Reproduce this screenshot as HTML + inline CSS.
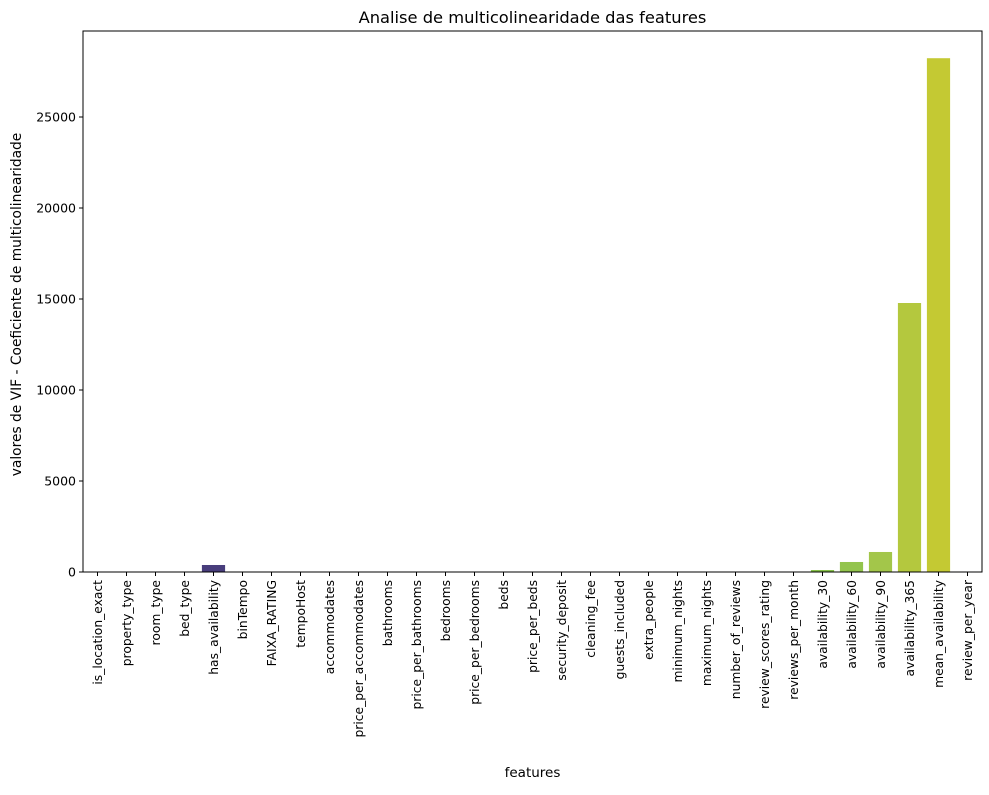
<!DOCTYPE html>
<html><head><meta charset="utf-8"><style>
body{margin:0;background:#fff;font-family:"Liberation Sans","DejaVu Sans",sans-serif}
svg text{font-family:"DejaVu Sans","Liberation Sans",sans-serif;fill:#000}
</style></head><body>
<svg id="c" width="989" height="790"></svg>
<script>
const categories=["is_location_exact","property_type","room_type","bed_type","has_availability","binTempo","FAIXA_RATING","tempoHost","accommodates","price_per_accommodates","bathrooms","price_per_bathrooms","bedrooms","price_per_bedrooms","beds","price_per_beds","security_deposit","cleaning_fee","guests_included","extra_people","minimum_nights","maximum_nights","number_of_reviews","review_scores_rating","reviews_per_month","availability_30","availability_60","availability_90","availability_365","mean_availability","review_per_year"];
const vifValues=[3,8,5,2,385,4,6,5,9,7,4,6,8,6,7,5,3,4,5,3,2,2,4,6,5,110,550,1100,14780,28230,4];
const barColors=["#3b1f5e","#40245f","#422a70","#463374","#483d7c","#3f4a88","#39568c","#33628d","#2d6e8e","#29798e","#25838e","#218e8d","#1f998a","#22a385","#2bad7f","#3bb777","#4fc06a","#63c65e","#76c95a","#80c052","#82c04f","#84c04c","#86c04a","#86c04a","#86c04a","#86c04a","#93c44d","#a3c64a","#b4c83e","#c4c933","#d2cc2a"];
const yTicks=[0,5000,10000,15000,20000,25000];
const svg=document.getElementById('c');const NS='http://www.w3.org/2000/svg';
const L=83,R=982,T=31,B=572,yMax=29725;
const y=v=>B-v/yMax*(B-T);
const step=(R-L)/categories.length;
const x=i=>L+step*(i+0.5);
function el(t,a,txt){const e=document.createElementNS(NS,t);for(const k in a)e.setAttribute(k,a[k]);if(txt!==undefined)e.textContent=txt;svg.appendChild(e);return e;}
categories.forEach((c,i)=>{
 const h=B-y(vifValues[i]);
 const r=el('rect',{x:x(i)-step*0.4,y:y(vifValues[i]),width:step*0.8,height:h,fill:barColors[i]});
 
 
 const tk=el('line',{x1:x(i),x2:x(i),y1:B,y2:B+4,stroke:'#000'});
 
 
 const t=el('text',{x:x(i)+4.5,y:B+8,'font-size':12.3,'text-anchor':'end',transform:`rotate(-90 ${x(i)+4.5} ${B+8})`},c);
 
 
});
yTicks.forEach(v=>{
 const tk=el('line',{x1:L-4,x2:L,y1:y(v),y2:y(v),stroke:'#000'});
 
 
 const t=el('text',{x:L-7,y:y(v)+4.5,'font-size':12.5,'text-anchor':'end'},v);
 
 
});
const fr=el('rect',{x:L,y:T,width:R-L,height:B-T,fill:'none',stroke:'#000','stroke-width':1});


const ti=el('text',{x:(L+R)/2,y:23,'font-size':16.3,'text-anchor':'middle'},'Analise de multicolinearidade das features');


const xl=el('text',{x:(L+R)/2,y:777,'font-size':13.5,'text-anchor':'middle'},'features');


const yl=el('text',{x:21,y:(T+B)/2+3,'font-size':13.8,'text-anchor':'middle',transform:`rotate(-90 21 ${(T+B)/2+3})`},'valores de VIF - Coeficiente de multicolinearidade');


</script>
</body></html>
